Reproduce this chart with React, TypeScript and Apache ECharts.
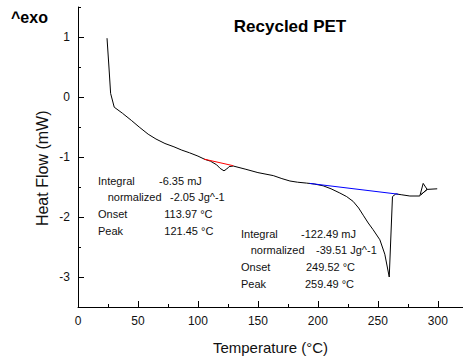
import React, { useEffect, useRef } from "react";
import * as echarts from "echarts";

// ---- data ----
const temps = [
  24.2, 25.8, 27.2, 30.2, 37, 44.5, 51, 58.5, 65, 72.5, 80, 86.5, 93, 100,
  105.8, 110.5, 115.6, 118.5, 121.7, 124, 126, 129.4, 140, 150, 162.8, 170,
  176.7, 183, 190.6, 197, 204.4, 211, 218.3, 224, 229.4, 234, 237.8, 242, 246,
  251.7, 255.8, 259.5, 262.2, 265, 270, 276.7, 285, 287.8, 291.1, 285.8, 291.1,
  299.5,
];
const heatFlow = [
  0.98, 0.5, 0.06, -0.17, -0.27, -0.39, -0.5, -0.62, -0.7, -0.775, -0.83,
  -0.885, -0.93, -0.985, -1.04, -1.07, -1.13, -1.19, -1.23, -1.2, -1.16, -1.15,
  -1.205, -1.26, -1.31, -1.36, -1.4, -1.42, -1.435, -1.45, -1.48, -1.53, -1.6,
  -1.66, -1.74, -1.85, -1.97, -2.1, -2.21, -2.38, -2.62, -3.0, -1.66, -1.615,
  -1.63, -1.65, -1.65, -1.44, -1.54, -1.63, -1.54, -1.53,
];
const baseline1Temps = [105, 129.4];
const baseline1Flow = [-1.035, -1.145];
const baseline2Temps = [193, 267];
const baseline2Flow = [-1.44, -1.62];

const xMajorTicks = [0, 50, 100, 150, 200, 250, 300];
const xMinorTicks = [25, 75, 125, 175, 225, 275];
const yMajorTicks = [-3, -2, -1, 0, 1];
const yMinorTicks = [-3.5, -2.5, -1.5, -0.5, 0.5, 1.5];

const peak1Labels = ["Integral", "normalized", "Onset", "Peak"];
const peak1Values = ["-6.35 mJ", "-2.05 Jg^-1", "113.97 °C", "121.45 °C"];
const peak2Labels = ["Integral", "normalized", "Onset", "Peak"];
const peak2Values = ["-122.49 mJ", "-39.51 Jg^-1", "249.52 °C", "259.49 °C"];

const FONT = "'Liberation Sans', Arial, Helvetica, sans-serif";

function pairs(xs: number[], ys: number[]) {
  return xs.map((x, i) => [x, ys[i]]);
}

function txt(text: string, x: number, y: number, size: number, extra: any = {}) {
  return {
    type: "text",
    x,
    y,
    silent: true,
    style: {
      text,
      fontSize: size,
      fontFamily: FONT,
      fill: "#111",
      align: "left",
      verticalAlign: "middle",
      ...extra,
    },
  };
}

export default function App() {
  const ref = useRef<HTMLDivElement>(null);

  useEffect(() => {
    if (!ref.current) return;
    const chart = echarts.init(ref.current, null, { renderer: "svg" });

    const rows1 = [181, 197.3, 214, 230.7];
    const rows2 = [233.5, 249.8, 266.6, 283.6];
    const lx1 = [98, 107.7, 98, 98];
    const vx1 = [159, 170, 164.3, 164.3];
    const lx2 = [241, 250.7, 241, 241];
    const vx2 = [301, 316, 306, 305];

    const graphics: any[] = [
      txt("^exo", 11, 17.7, 16, { fontWeight: "bold", fill: "#000" }),
      txt("Recycled PET", 290, 26.3, 17, { fontWeight: "bold", fill: "#000", align: "center" }),
      {
        type: "text",
        x: 42.4,
        y: 168.3,
        rotation: Math.PI / 2,
        silent: true,
        style: {
          text: "Heat Flow (mW)",
          fontSize: 16,
          fontFamily: FONT,
          fill: "#111",
          align: "center",
          verticalAlign: "middle",
        },
      },
    ];
    peak1Labels.forEach((t, i) => graphics.push(txt(t, lx1[i], rows1[i], 11)));
    peak1Values.forEach((t, i) => graphics.push(txt(t, vx1[i], rows1[i], 11)));
    peak2Labels.forEach((t, i) => graphics.push(txt(t, lx2[i], rows2[i], 11)));
    peak2Values.forEach((t, i) => graphics.push(txt(t, vx2[i], rows2[i], 11)));

    const axisLineStyle = { color: "#000", width: 1 };

    chart.setOption({
      animation: false,
      backgroundColor: "#fff",
      grid: { left: 78, right: 0, top: 7, bottom: 50, containLabel: false, outerBoundsMode: "none" },
      xAxis: [
        {
          type: "value",
          min: 0,
          max: 321,
          position: "bottom",
          axisLine: { show: true, onZero: false, lineStyle: axisLineStyle },
          axisTick: { show: true, inside: true, length: 6, customValues: xMajorTicks, lineStyle: axisLineStyle },
          axisLabel: { show: true, customValues: xMajorTicks, color: "#111", fontSize: 12, fontFamily: FONT, margin: 8 },
          splitLine: { show: false },
          name: "Temperature (°C)",
          nameLocation: "middle",
          nameGap: 33,
          nameTextStyle: { color: "#111", fontSize: 15, fontFamily: FONT },
        },
        {
          type: "value",
          min: 0,
          max: 321,
          position: "bottom",
          axisLine: { show: false, onZero: false },
          axisTick: { show: true, inside: true, length: 3, customValues: xMinorTicks, lineStyle: axisLineStyle },
          axisLabel: { show: false },
          splitLine: { show: false },
        },
      ],
      yAxis: [
        {
          type: "value",
          min: -3.5,
          max: 1.5,
          position: "left",
          axisLine: { show: true, onZero: false, lineStyle: axisLineStyle },
          axisTick: { show: true, inside: true, length: 6, customValues: yMajorTicks, lineStyle: axisLineStyle },
          axisLabel: { show: true, customValues: yMajorTicks, color: "#111", fontSize: 12, fontFamily: FONT, margin: 8 },
          splitLine: { show: false },
        },
        {
          type: "value",
          min: -3.5,
          max: 1.5,
          position: "left",
          axisLine: { show: false, onZero: false },
          axisTick: { show: true, inside: true, length: 3, customValues: yMinorTicks, lineStyle: axisLineStyle },
          axisLabel: { show: false },
          splitLine: { show: false },
        },
      ],
      series: [
        {
          type: "line",
          xAxisIndex: 0,
          yAxisIndex: 0,
          data: pairs(temps, heatFlow),
          showSymbol: false,
          symbol: "none",
          lineStyle: { color: "#000", width: 1 },
          z: 2,
        },
        {
          type: "line",
          xAxisIndex: 0,
          yAxisIndex: 0,
          data: pairs(baseline1Temps, baseline1Flow),
          symbol: "none",
          lineStyle: { color: "#ff0000", width: 1 },
          z: 3,
        },
        {
          type: "line",
          xAxisIndex: 0,
          yAxisIndex: 0,
          data: pairs(baseline2Temps, baseline2Flow),
          symbol: "none",
          lineStyle: { color: "#0000ff", width: 1 },
          z: 3,
        },
      ],
      graphic: graphics,
    });

    return () => chart.dispose();
  }, []);

  return (
    <div
      ref={ref}
      style={{ position: "fixed", left: 0, top: 0, width: 463, height: 357 }}
    />
  );
}
